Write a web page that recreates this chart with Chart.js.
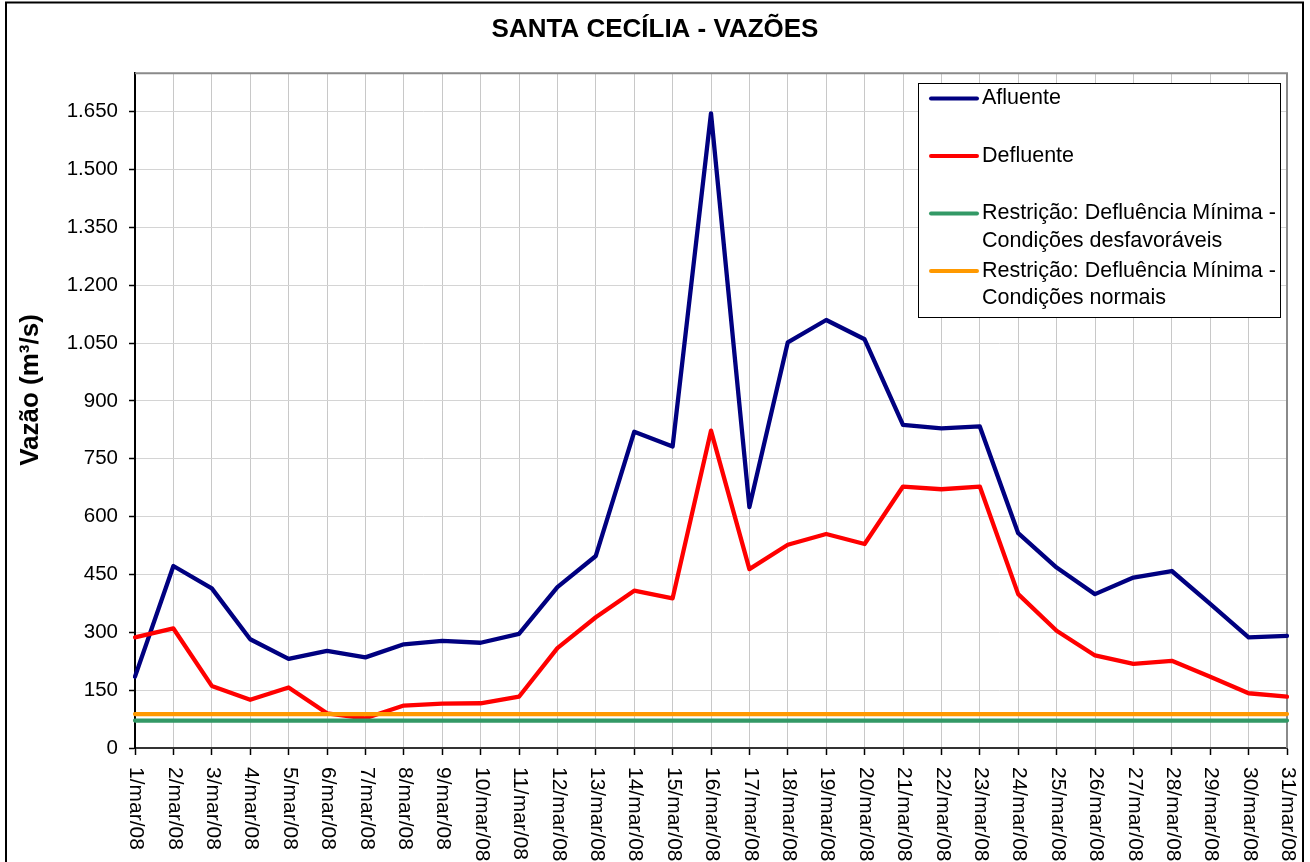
<!DOCTYPE html>
<html>
<head>
<meta charset="utf-8">
<script src="https://cdn.jsdelivr.net/npm/chart.js@4.4.1/dist/chart.umd.min.js"></script>
<style>
  body { margin: 0; background: #fff; }
  canvas { display: block; }
</style>
</head>
<body>
<canvas id="grafico" width="1310" height="862"></canvas>
<script>
// ===============================
// Dados
// ===============================
const dias = [
  "1/mar/08", "2/mar/08", "3/mar/08", "4/mar/08", "5/mar/08", "6/mar/08", "7/mar/08",
  "8/mar/08", "9/mar/08", "10/mar/08", "11/mar/08", "12/mar/08", "13/mar/08", "14/mar/08",
  "15/mar/08", "16/mar/08", "17/mar/08", "18/mar/08", "19/mar/08", "20/mar/08", "21/mar/08",
  "22/mar/08", "23/mar/08", "24/mar/08", "25/mar/08", "26/mar/08", "27/mar/08", "28/mar/08",
  "29/mar/08", "30/mar/08", "31/mar/08"
];

const afluente = [185, 472, 414, 282, 231, 252, 235, 269, 278, 273, 296, 417, 498, 820, 782,
  1646, 625, 1052, 1110, 1060, 838, 829, 834, 557, 468, 399, 442, 459, 374, 287, 291];

const defluente = [287, 310, 161, 125, 157, 90, 77, 110, 115, 116, 133, 259, 339, 408, 388,
  823, 464, 527, 555, 529, 678, 671, 678, 399, 304, 240, 218, 226, 185, 142, 133];

const minDesfavoraveis = [71, 71, 71, 71, 71, 71, 71, 71, 71, 71, 71, 71, 71, 71, 71, 71,
  71, 71, 71, 71, 71, 71, 71, 71, 71, 71, 71, 71, 71, 71, 71];

const minNormais = [88, 88, 88, 88, 88, 88, 88, 88, 88, 88, 88, 88, 88, 88, 88, 88,
  88, 88, 88, 88, 88, 88, 88, 88, 88, 88, 88, 88, 88, 88, 88];

const FONTE = "'Liberation Sans', Arial, sans-serif";

function formatarMilhar(v) {
  return String(v).replace(/\B(?=(\d{3})+(?!\d))/g, ".");
}

// ===============================
// Moldura, rótulos do eixo X, título do eixo Y e legenda
// ===============================
const molduraPlugin = {
  id: "moldura",
  beforeDatasetsDraw(chart) {
    const { ctx, chartArea: a } = chart;
    ctx.save();
    ctx.strokeStyle = "#8a8a8a";
    ctx.lineWidth = 2;
    ctx.beginPath();
    ctx.moveTo(a.left, a.top);
    ctx.lineTo(a.right, a.top);
    ctx.lineTo(a.right, a.bottom);
    ctx.stroke();
    ctx.restore();
  },
  afterDraw(chart) {
    const { ctx, chartArea: a } = chart;
    const xScale = chart.scales.x;
    ctx.save();

    // borda externa
    ctx.strokeStyle = "#000";
    ctx.lineWidth = 2;
    ctx.strokeRect(6, 2.5, 1297, 900);

    // rótulos do eixo X (girados para baixo)
    ctx.fillStyle = "#000";
    ctx.font = "21px " + FONTE;
    ctx.textAlign = "left";
    ctx.textBaseline = "middle";
    xScale.ticks.forEach((t, i) => {
      const x = xScale.getPixelForTick(i);
      ctx.save();
      ctx.translate(x + 1, a.bottom + 19);
      ctx.rotate(Math.PI / 2);
      ctx.fillText(dias[t.value], 0, 0);
      ctx.restore();
    });

    // título do eixo Y
    ctx.save();
    ctx.font = "bold 26px " + FONTE;
    ctx.textAlign = "center";
    ctx.translate(31, 390);
    ctx.rotate(-Math.PI / 2);
    ctx.fillText("Vazão (m³/s)", 0, 0);
    ctx.restore();

    // legenda
    const lx = 918.5, ly = 83.5, lw = 362, lh = 234;
    ctx.fillStyle = "#fff";
    ctx.fillRect(lx, ly, lw, lh);
    ctx.strokeStyle = "#000";
    ctx.lineWidth = 1;
    ctx.strokeRect(lx, ly, lw, lh);

    ctx.font = "21.5px " + FONTE;
    ctx.textAlign = "left";
    ctx.textBaseline = "middle";
    chart.data.datasets.forEach((ds, i) => {
      const y = 98.5 + i * 57.5;
      ctx.strokeStyle = ds.borderColor;
      ctx.lineWidth = 4;
      ctx.lineCap = "round";
      ctx.beginPath();
      ctx.moveTo(931, y);
      ctx.lineTo(977, y);
      ctx.stroke();
      ctx.fillStyle = "#000";
      const partes = ds.label.split("|");
      partes.forEach((p, j) => ctx.fillText(p, 982, y + j * 27.5));
    });

    ctx.restore();
  }
};

new Chart(document.getElementById("grafico"), {
  type: "line",
  data: {
    labels: dias,
    datasets: [
      { label: "Afluente", data: afluente, borderColor: "#000080", order: 4 },
      { label: "Defluente", data: defluente, borderColor: "#ff0000", order: 3 },
      { label: "Restrição: Defluência Mínima -|Condições desfavoráveis", data: minDesfavoraveis, borderColor: "#339966", order: 2 },
      { label: "Restrição: Defluência Mínima -|Condições normais", data: minNormais, borderColor: "#ff9900", order: 1 }
    ]
  },
  options: {
    responsive: false,
    animation: false,
    layout: { padding: { left: 23, right: 23, top: 0, bottom: 0 } },
    elements: {
      line: { borderWidth: 4.3, tension: 0, borderJoinStyle: "round", borderCapStyle: "round", fill: false },
      point: { radius: 0, hoverRadius: 0 }
    },
    plugins: {
      legend: { display: false },
      tooltip: { enabled: false },
      title: {
        display: true,
        text: "SANTA CECÍLIA - VAZÕES",
        color: "#000",
        font: { family: FONTE, size: 26, weight: "bold" },
        padding: { top: 14, bottom: 28 }
      }
    },
    scales: {
      x: {
        type: "category",
        offset: false,
        afterFit(scale) { scale.height = 114; },
        ticks: { display: false, autoSkip: false },
        grid: { color: "#c8c8c8", lineWidth: 1, tickLength: 7, tickColor: "#000", tickWidth: 1.5 },
        border: { display: true, color: "#333", width: 2 }
      },
      y: {
        min: 0,
        max: 1750,
        afterFit(scale) { scale.width = 112; },
        afterBuildTicks(scale) {
          scale.ticks = scale.ticks.filter(t => t.value % 150 === 0);
        },
        ticks: {
          stepSize: 150,
          padding: 11,
          color: "#000",
          font: { family: FONTE, size: 20.5 },
          callback: v => formatarMilhar(v)
        },
        grid: { color: "#d4d4d4", lineWidth: 1, tickLength: 6, tickColor: "#000", tickWidth: 1.5 },
        border: { display: true, color: "#000", width: 2 }
      }
    }
  },
  plugins: [molduraPlugin]
});
</script>
</body>
</html>
